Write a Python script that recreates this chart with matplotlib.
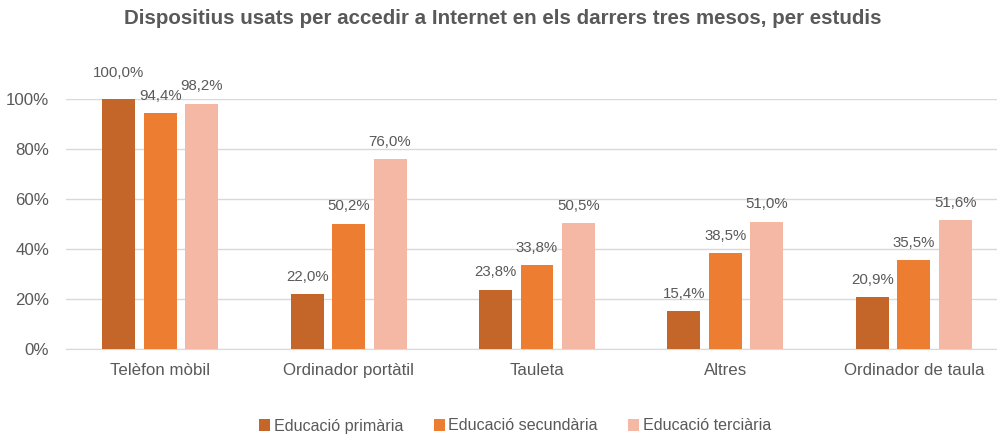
import matplotlib
matplotlib.use("Agg")
import matplotlib.pyplot as plt
import matplotlib.patches as patches
import numpy as np

plt.rcParams["font.family"] = ["Liberation Sans", "DejaVu Sans"]

# -----------------------------------------------------------------------------
# Data
# -----------------------------------------------------------------------------

categories = ["Telèfon mòbil", "Ordinador portàtil", "Tauleta", "Altres",
              "Ordinador de taula"]
series = ["Educació primària", "Educació secundària", "Educació terciària"]
primaria = [100.0, 22.0, 23.8, 15.4, 20.9]
secundaria = [94.4, 50.2, 33.8, 38.5, 35.5]
terciaria = [98.2, 76.0, 50.5, 51.0, 51.6]

colors = ["#C4652A", "#ED7D31", "#F4B8A5"]
textColor = "#595959"

# -----------------------------------------------------------------------------
# Figure
# -----------------------------------------------------------------------------

fig = plt.figure(figsize=(9.97, 4.38), dpi=100)
ax = fig.add_axes([66 / 997, 89 / 438, 942 / 997, 250 / 438])

x = np.arange(len(categories))
width = 0.175
step = 0.22
for i, (vals, color) in enumerate(zip([primaria, secundaria, terciaria], colors)):
    pos = x + (i - 1) * step
    ax.bar(pos, vals, width, color=color, zorder=3)
    for px, v in zip(pos, vals):
        # the first label is pushed up a bit so it does not overlap the grid
        off = 7.5 if v >= 99.9 else 4.0
        ax.text(px, v + off, "{:.1f}%".format(v).replace(".", ","),
                ha="center", va="bottom", fontsize=10.8, color=textColor,
                clip_on=False)

ax.set_xlim(-0.5, len(categories) - 0.5)
ax.set_ylim(0, 100)
ax.set_yticks(np.arange(0, 101, 20))
ax.set_yticklabels(["{}%".format(v) for v in range(0, 101, 20)])
ax.set_xticks(x)
ax.set_xticklabels(categories)
ax.tick_params(axis="both", length=0, labelsize=12.2, colors=textColor)
ax.tick_params(axis="x", pad=10)
ax.tick_params(axis="y", pad=12)
ax.grid(axis="y", color="#D9D9D9", linewidth=1, zorder=0)
for s in ["top", "right", "left"]:
    ax.spines[s].set_visible(False)
ax.spines["bottom"].set_color("#D9D9D9")

fig.text(503 / 997, 1 - 18 / 438,
         "Dispositius usats per accedir a Internet en els darrers tres mesos, per estudis",
         ha="center", va="center", fontsize=14.8, fontweight="bold",
         color=textColor)

handles = [patches.Rectangle((0, 0), 1, 1, facecolor=c) for c in colors]
fig.legend(handles, series, loc="center", bbox_to_anchor=(515 / 997, 12 / 438),
           ncol=3, frameon=False, fontsize=11.6, handlelength=0.7,
           handleheight=0.7, handletextpad=0.2, columnspacing=1.9,
           labelcolor=textColor, borderpad=0.1)

fig.savefig("out.png", dpi=100)
